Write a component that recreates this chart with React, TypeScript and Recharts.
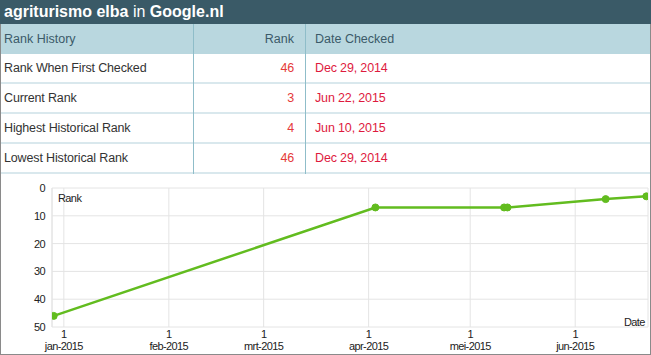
import React from 'react';
import { LineChart, Line, XAxis, YAxis, CartesianGrid } from 'recharts';

// keyword / engine shown in the header bar
const keyword = 'agriturismo elba';
const engine = 'Google.nl';

// summary table
const historyLabels = ['Rank When First Checked', 'Current Rank', 'Highest Historical Rank', 'Lowest Historical Rank'];
const historyRanks = [46, 3, 4, 46];
const historyDates = ['Dec 29, 2014', 'Jun 22, 2015', 'Jun 10, 2015', 'Dec 29, 2014'];

// rank series
const checkDates = ['2014-12-29', '2015-04-03', '2015-05-11', '2015-05-12', '2015-06-10', '2015-06-22'];
const ranks = [46, 7, 7, 7, 4, 3];

// x ticks (first of month) and their labels
const monthStarts = ['2015-01-01', '2015-02-01', '2015-03-01', '2015-04-01', '2015-05-01', '2015-06-01'];
const monthLabels = ['jan-2015', 'feb-2015', 'mrt-2015', 'apr-2015', 'mei-2015', 'jun-2015'];
const rankTicks = [0, 10, 20, 30, 40, 50];

const DAY = 86400000;
const base = Date.UTC(2015, 0, 1);
const toDay = (s: string) => {
  const [y, m, d] = s.split('-').map(Number);
  return (Date.UTC(y, m - 1, d) - base) / DAY;
};

const data = checkDates.map((d, i) => ({ day: toDay(d), rank: ranks[i] }));
const tickDays = monthStarts.map(toDay);

const FONT = 'Arial, "Liberation Sans", sans-serif';
const GREEN = '#62bc1f';

const MonthTick = (props: any) => {
  const { x, y, payload } = props;
  const idx = tickDays.indexOf(payload.value);
  return (
    <g fontSize={11} fill="#222" fontFamily={FONT} letterSpacing={-0.6}>
      <text x={x} y={y + 3} textAnchor="middle">1</text>
      <text x={x} y={y + 14.5} textAnchor="middle">{monthLabels[idx]}</text>
    </g>
  );
};

export default function App() {
  const rowTop = (i: number) => 54 + i * 30;
  return (
    <div style={{ position: 'absolute', left: 0, top: 0, width: 651, height: 355, background: '#fff', fontFamily: FONT, overflow: 'hidden' }}>
      {/* title bar */}
      <div style={{ position: 'absolute', left: 0, top: 0, width: 651, height: 24, background: '#3a5a67', color: '#fff', fontSize: 16, lineHeight: '23px', paddingLeft: 4, boxSizing: 'border-box', whiteSpace: 'nowrap' }}>
        <b>{keyword}</b> in <b>{engine}</b>
      </div>

      {/* table header */}
      <div style={{ position: 'absolute', left: 0, top: 24, width: 651, height: 30, background: '#b9d7df', color: '#3b5a69', fontSize: 12.5 }}>
        <div style={{ position: 'absolute', left: 4, top: 8 }}>Rank History</div>
        <div style={{ position: 'absolute', right: 651 - 294, top: 8 }}>Rank</div>
        <div style={{ position: 'absolute', left: 315, top: 8 }}>Date Checked</div>
      </div>

      {/* table rows */}
      {historyLabels.map((label, i) => (
        <div key={label} style={{ position: 'absolute', left: 0, top: rowTop(i), width: 651, height: 30, fontSize: 12.5, letterSpacing: '-0.15px' }}>
          <div style={{ position: 'absolute', left: 4, top: 7, color: '#333' }}>{label}</div>
          <div style={{ position: 'absolute', right: 651 - 294, top: 7, color: '#e53a3a' }}>{historyRanks[i]}</div>
          <div style={{ position: 'absolute', left: 315, top: 7, color: '#de1a3e' }}>{historyDates[i]}</div>
          <div style={{ position: 'absolute', left: 0, top: 28, width: 651, height: 2, background: '#d9e8ed' }} />
        </div>
      ))}

      {/* column separators */}
      <div style={{ position: 'absolute', left: 193, top: 24, width: 1, height: 150, background: '#8fbdc9' }} />
      <div style={{ position: 'absolute', left: 305, top: 24, width: 1, height: 150, background: '#8fbdc9' }} />

      {/* chart */}
      <div style={{ position: 'absolute', left: 0, top: 175 }}>
        <LineChart width={651} height={180} data={data} margin={{ top: 13, right: 3, bottom: 0, left: 0 }}>
          <CartesianGrid stroke="#e4e4e4" />
          <XAxis
            dataKey="day"
            type="number"
            domain={[-3.5, 172.5]}
            ticks={tickDays}
            tick={<MonthTick />}
            tickLine={false}
            axisLine={false}
            height={28}
            allowDataOverflow
          />
          <YAxis
            type="number"
            reversed
            domain={[0, 50]}
            ticks={rankTicks}
            width={52}
            tickLine={false}
            axisLine={{ stroke: '#e4e4e4' }}
            tick={{ fontSize: 11, fill: '#222', fontFamily: FONT, letterSpacing: -0.6 }}
            tickMargin={1}
          />
          <Line
            type="linear"
            dataKey="rank"
            stroke={GREEN}
            strokeWidth={2.5}
            dot={{ r: 3.5, fill: GREEN, stroke: GREEN, strokeWidth: 1 }}
            isAnimationActive={false}
          />
        </LineChart>
        <div style={{ position: 'absolute', left: 58, top: 17, fontSize: 11, letterSpacing: '-0.6px', color: '#222' }}>Rank</div>
        <div style={{ position: 'absolute', left: 624, top: 141, fontSize: 11, letterSpacing: '-0.6px', color: '#222' }}>Date</div>
      </div>

      {/* outer frame */}
      <div style={{ position: 'absolute', left: 0, top: 24, width: 651, height: 331, border: '1px solid #8a8a8a', borderTop: 'none', boxSizing: 'border-box', pointerEvents: 'none' }} />
    </div>
  );
}
